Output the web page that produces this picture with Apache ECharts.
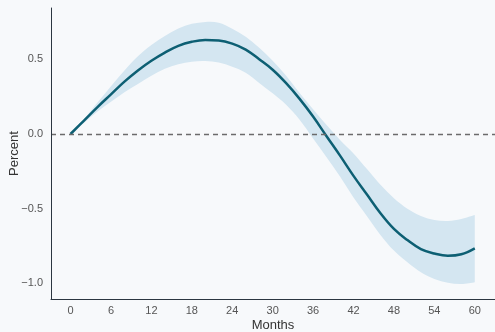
<!DOCTYPE html>
<html>
<head>
<meta charset="utf-8">
<script src="https://cdn.jsdelivr.net/npm/echarts@6/dist/echarts.min.js"></script>
<style>
html,body{margin:0;padding:0;background:#f7f9fb;}
#c{width:495px;height:332px;}
</style>
</head>
<body>
<div id="c"></div>
<script>
const months = [0, 2, 4, 6, 8, 10, 12, 14, 16, 18, 20, 22, 24, 26, 28, 30, 32, 34, 36, 38, 40, 42, 44, 46, 48, 50, 52, 54, 56, 58, 60];
const meanValues = [0, 0.09, 0.18, 0.265, 0.35, 0.425, 0.49, 0.545, 0.59, 0.617, 0.629, 0.626, 0.605, 0.565, 0.50, 0.43, 0.34, 0.235, 0.117, -0.015, -0.145, -0.28, -0.405, -0.53, -0.635, -0.71, -0.77, -0.80, -0.815, -0.805, -0.765];
const upperValues = [0, 0.10, 0.21, 0.32, 0.425, 0.52, 0.595, 0.656, 0.706, 0.737, 0.75, 0.745, 0.705, 0.65, 0.577, 0.49, 0.39, 0.275, 0.165, 0.06, -0.04, -0.13, -0.235, -0.34, -0.43, -0.50, -0.548, -0.575, -0.582, -0.568, -0.542];
const lowerValues = [0, 0.075, 0.15, 0.215, 0.28, 0.335, 0.39, 0.436, 0.467, 0.484, 0.488, 0.478, 0.45, 0.41, 0.342, 0.272, 0.195, 0.095, -0.03, -0.155, -0.285, -0.425, -0.55, -0.675, -0.78, -0.858, -0.925, -0.97, -0.996, -1.004, -0.992];
const xTicks = [0, 6, 12, 18, 24, 30, 36, 42, 48, 54, 60];
const yTicks = [-1.0, -0.5, 0.0, 0.5];

const BG = '#f7f9fb';
const fmtY = v => (v < 0 ? '\u2212' : '') + Math.abs(v).toFixed(1);

// Catmull-Rom spline through pixel points -> cubic bezier path commands
function splineCmds(pts) {
  let d = '';
  for (let i = 0; i < pts.length - 1; i++) {
    const p0 = pts[Math.max(i - 1, 0)], p1 = pts[i], p2 = pts[i + 1], p3 = pts[Math.min(i + 2, pts.length - 1)];
    const c1 = [p1[0] + (p2[0] - p0[0]) / 6, p1[1] + (p2[1] - p0[1]) / 6];
    const c2 = [p2[0] - (p3[0] - p1[0]) / 6, p2[1] - (p3[1] - p1[1]) / 6];
    d += ' C' + c1[0] + ' ' + c1[1] + ' ' + c2[0] + ' ' + c2[1] + ' ' + p2[0] + ' ' + p2[1];
  }
  return d;
}

const chart = echarts.init(document.getElementById('c'), null, {renderer: 'canvas'});
chart.setOption({
  backgroundColor: BG,
  animation: false,
  grid: {left: 51, right: 0, top: 8, bottom: 33, outerBoundsMode: 'none', containLabel: false},
  xAxis: {
    type: 'value', min: -2.9, max: 63, z: 10,
    name: 'Months', nameLocation: 'middle', nameGap: 20, nameMoveOverlap: false,
    nameTextStyle: {fontFamily: 'Liberation Sans', fontSize: 13, color: '#333'},
    axisLine: {show: true, onZero: false, lineStyle: {color: '#2b3640', width: 1}},
    axisTick: {show: false},
    splitLine: {show: false},
    axisLabel: {customValues: xTicks, margin: 6, fontFamily: 'Liberation Sans', fontSize: 11, color: '#555'}
  },
  yAxis: {
    type: 'value', min: -1.104, max: 0.843, z: 10,
    name: 'Percent', nameLocation: 'middle', nameGap: 30, nameRotate: 90, nameMoveOverlap: false,
    nameTextStyle: {fontFamily: 'Liberation Sans', fontSize: 13, color: '#333'},
    axisLine: {show: true, onZero: false, lineStyle: {color: '#2b3640', width: 1}},
    axisTick: {show: false},
    splitLine: {show: false},
    axisLabel: {customValues: yTicks, margin: 8, fontFamily: 'Liberation Sans', fontSize: 11, color: '#555', formatter: fmtY}
  },
  series: [
    {
      type: 'custom', z: 1, silent: true, clip: true,
      data: [[months[0], upperValues[0]]],
      renderItem: function (params, api) {
        const up = months.map((m, i) => api.coord([m, upperValues[i]]));
        const lo = months.map((m, i) => api.coord([m, lowerValues[i]])).reverse();
        const d = 'M' + up[0][0] + ' ' + up[0][1] + splineCmds(up) +
          ' L' + lo[0][0] + ' ' + lo[0][1] + splineCmds(lo) + ' Z';
        return {type: 'path', shape: {pathData: d}, style: {fill: '#d4e6f1', stroke: null}};
      }
    },
    {
      type: 'line', z: 4,
      data: months.map((m, i) => [m, meanValues[i]]),
      smooth: 0.4, symbol: 'none',
      lineStyle: {color: '#0d5f73', width: 2.5},
      markLine: {
        silent: true, symbol: ['none', 'none'], label: {show: false},
        lineStyle: {color: '#6b6b6b', type: [5, 4], width: 1.3},
        data: [{yAxis: 0}]
      }
    }
  ]
});
</script>
</body>
</html>
